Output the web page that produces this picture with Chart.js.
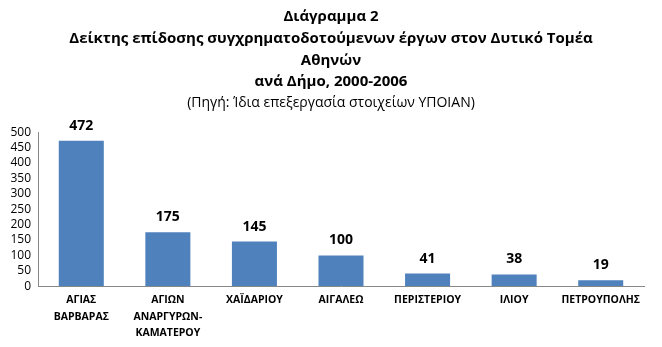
<!DOCTYPE html>
<html>
<head>
<meta charset="utf-8">
<script src="https://cdn.jsdelivr.net/npm/chart.js@4"></script>
<style>
  html, body { margin: 0; padding: 0; background: #fff; }
  #wrap { width: 662px; height: 347px; }
</style>
</head>
<body>
<div id="wrap"><canvas id="chart" width="662" height="347"></canvas></div>
<script>
// Data
const municipalities = [
    ['ΑΓΙΑΣ', 'ΒΑΡΒΑΡΑΣ'],
    ['ΑΓΙΩΝ', 'ΑΝΑΡΓΥΡΩΝ-', 'ΚΑΜΑΤΕΡΟΥ'],
    'ΧΑΪΔΑΡΙΟΥ',
    'ΑΙΓΑΛΕΩ',
    'ΠΕΡΙΣΤΕΡΙΟΥ',
    'ΙΛΙΟΥ',
    'ΠΕΤΡΟΥΠΟΛΗΣ'
];
const indexValues = [472, 175, 145, 100, 41, 38, 19];
const titleLines = [
    'Διάγραμμα 2',
    'Δείκτης επίδοσης συγχρηματοδοτούμενων έργων στον Δυτικό Τομέα',
    'Αθηνών',
    'ανά Δήμο, 2000-2006'
];
const sourceLine = '(Πηγή: Ίδια επεξεργασία στοιχείων ΥΠΟΙΑΝ)';

const fontFamily = "'Open Sans', 'Noto Sans', sans-serif";

// Value labels above the bars
const valueLabels = {
    id: 'valueLabels',
    afterDatasetsDraw(chart) {
        const ctx = chart.ctx;
        const meta = chart.getDatasetMeta(0);
        ctx.save();
        ctx.font = `bold 14px ${fontFamily}`;
        ctx.fillStyle = '#000';
        ctx.textAlign = 'center';
        ctx.textBaseline = 'bottom';
        meta.data.forEach((bar, i) => {
            ctx.fillText(indexValues[i], bar.x, bar.y - 8);
        });
        ctx.restore();
    }
};

new Chart(document.getElementById('chart'), {
    type: 'bar',
    data: {
        labels: municipalities,
        datasets: [{
            data: indexValues,
            backgroundColor: '#4F81BD',
            borderWidth: 0,
            categoryPercentage: 1,
            barPercentage: 0.52
        }]
    },
    options: {
        responsive: false,
        animation: false,
        layout: { padding: { left: 8, right: 8, top: 4, bottom: 0 } },
        plugins: {
            legend: { display: false },
            tooltip: { enabled: false },
            title: {
                display: true,
                text: titleLines,
                color: '#000',
                font: { family: fontFamily, size: 15, weight: 'bold', lineHeight: 1.45 },
                padding: { top: 2, bottom: 0 }
            },
            subtitle: {
                display: true,
                text: sourceLine,
                color: '#000',
                font: { family: fontFamily, size: 14, lineHeight: 1.3 },
                padding: { top: 1, bottom: 20 }
            }
        },
        scales: {
            x: {
                grid: { display: false, drawTicks: false },
                border: { color: '#888' },
                ticks: {
                    color: '#000',
                    maxRotation: 0,
                    autoSkip: false,
                    padding: 6,
                    font: { family: fontFamily, size: 10.5, weight: 'bold', lineHeight: 1.55 }
                }
            },
            y: {
                min: 0,
                max: 500,
                grid: { display: false, drawTicks: false },
                border: { color: '#888' },
                afterFit(scale) { scale.width = 30; },
                ticks: {
                    stepSize: 50,
                    autoSkip: false,
                    color: '#000',
                    padding: 7,
                    font: { family: fontFamily, size: 12 }
                }
            },
            // empty right-hand spacer so the plot ends where the original does
            spacer: {
                type: 'linear',
                position: 'right',
                grid: { display: false, drawTicks: false },
                border: { display: false },
                ticks: { display: false },
                afterFit(scale) { scale.width = 10; }
            }
        }
    },
    plugins: [valueLabels]
});
</script>
</body>
</html>
